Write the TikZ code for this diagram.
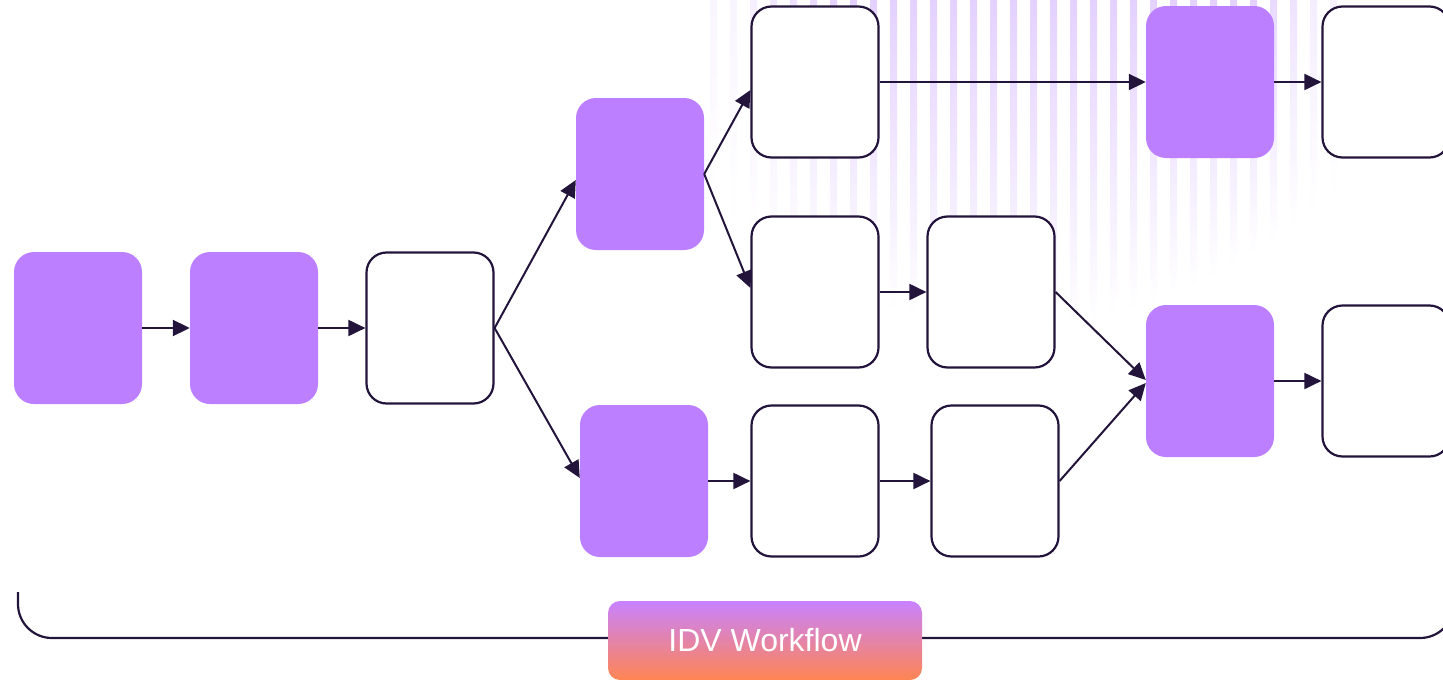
\documentclass[tikz,border=0pt]{standalone}
\usepackage{fontspec}
\setmainfont{Liberation Sans}
\usetikzlibrary{arrows.meta,calc}
\definecolor{pur}{RGB}{188,127,255}
\definecolor{ink}{RGB}{34,20,58}
\definecolor{lav}{RGB}{228,209,255}
\definecolor{gtop}{RGB}{200,130,255}
\definecolor{gbot}{RGB}{255,133,82}
\begin{document}
\begin{tikzpicture}[x=1pt,y=-1pt,
  pbox/.style={fill=pur, rounded corners=20pt, minimum width=128pt, minimum height=152pt, inner sep=0pt},
  wbox/.style={draw=ink, line width=2.2pt, fill=white, rounded corners=20pt, minimum width=127pt, minimum height=151pt, inner sep=0pt},
  arr/.style={draw=ink, line width=2pt, -{Triangle[length=17pt,width=16pt]}},
  bracket/.style={draw=ink, line width=2.2pt, rounded corners=34pt},
  tag/.style={shade, top color=gtop, bottom color=gbot, rounded corners=12pt, minimum width=314pt, minimum height=79pt, inner sep=0pt, text=white, font=\fontsize{32}{38}\selectfont}
]
\useasboundingbox (0,0) rectangle (1443,680);
\clip (0,0) rectangle (1443,680);
% background stripes
\foreach \i in {0,...,31} {
  \pgfmathsetmacro\xx{710+20*\i}
  \pgfmathsetmacro\LL{330-0.0013*(\xx-1010)*(\xx-1010)}
  \pgfmathsetmacro\op{min(1,max(0.2,(\xx-700)/140))*min(1,max(0.3,(1345-\xx)/90))}
  \shade[top color=lav, middle color=lav!75!white, bottom color=white, opacity=\op] (\xx,0) rectangle (\xx+7,\LL);
}
% bracket
\coordinate (bl) at (18,592);
\coordinate (br) at (1454,592);
\draw[bracket] (bl) -- (18,638) -- (1454,638) -- (br);
% nodes
\node[pbox] (A) at (78,328) {};
\node[pbox] (B) at (254,328) {};
\node[wbox] (C) at (430,328) {};
\node[pbox] (D) at (640,174) {};
\node[pbox] (E) at (644,481) {};
\node[wbox] (F) at (815,82) {};
\node[wbox] (G) at (815,292) {};
\node[wbox] (H) at (991,292) {};
\node[wbox] (I) at (815,481) {};
\node[wbox] (J) at (995,481) {};
\node[pbox] (K) at (1210,82) {};
\node[wbox] (L) at (1386,82) {};
\node[pbox] (M) at (1210,381) {};
\node[wbox] (N) at (1386,381) {};
% connectors
\draw[arr] (A.east) -- (B.west);
\draw[arr] (B.east) -- (C.west);
\draw[arr] (C.east) -- ($(D.west)+(0,6)$);
\draw[arr] (C.east) -- ($(E.west)+(0,-3)$);
\draw[arr] (D.east) -- ($(F.west)+(0,8)$);
\draw[arr] (D.east) -- ($(G.west)+(0,-4)$);
\draw[arr] (F.east) -- (K.west);
\draw[arr] (K.east) -- (L.west);
\draw[arr] (G.east) -- (H.west);
\draw[arr] (E.east) -- (I.west);
\draw[arr] (I.east) -- (J.west);
\draw[arr] (H.east) -- ($(M.west)+(0,-1)$);
\draw[arr] (J.east) -- ($(M.west)+(0,2)$);
\draw[arr] (M.east) -- (N.west);
% label
\node[tag] (lbl) at (765,640.5) {IDV Workflow};
\end{tikzpicture}
\end{document}
